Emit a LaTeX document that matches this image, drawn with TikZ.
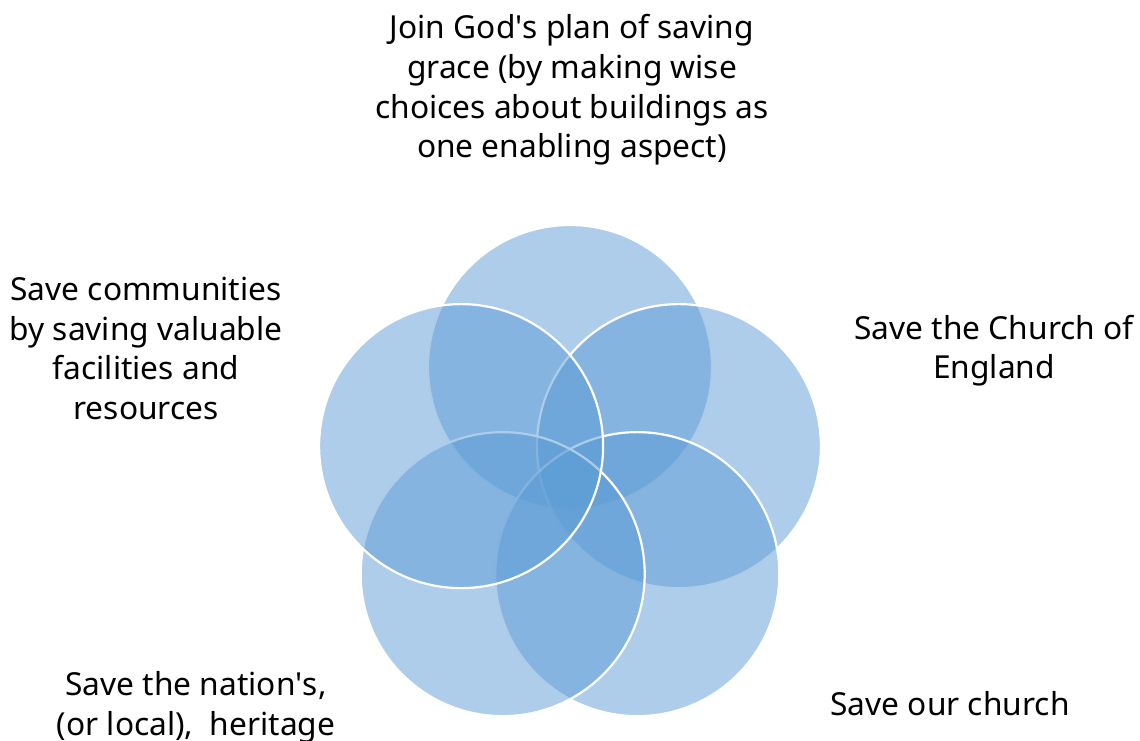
\documentclass[tikz,border=0pt]{standalone}
\usepackage{fontspec}
\setmainfont{Noto Sans}
\definecolor{vennblue}{HTML}{5B9BD5}
\begin{document}
\begin{tikzpicture}[x=1pt,y=-1pt,
  venn/.style={fill=vennblue,fill opacity=0.5,draw=white,draw opacity=1,line width=2.2pt},
  lbl/.style={align=center,inner sep=0pt,font=\fontsize{31.7}{39.6}\selectfont,text=black}]
\useasboundingbox (0,0) rectangle (1140,740);
\coordinate (ctr) at (570,481.5);
\def\R{114.5}
\def\r{142}
\path[venn] (ctr) ++(0,-\R) circle[radius=\r];
\path[venn] (ctr) ++(\R*0.9511,-\R*0.3090) circle[radius=\r];
\path[venn] (ctr) ++(\R*0.5878,\R*0.8090) circle[radius=\r];
\path[venn] (ctr) ++(-\R*0.5878,\R*0.8090) circle[radius=\r];
\path[venn] (ctr) ++(-\R*0.9511,-\R*0.3090) circle[radius=\r];
\node[lbl] (t1) at (572,90) {Join God\textquotesingle s plan of saving\\grace (by making wise\\choices about buildings as\\one enabling aspect)};
\node[lbl] (t2) at (994,350.5) {Save the Church of\\England};
\node[lbl] (t3) at (950,703.5) {Save our church};
\node[lbl] (t4) at (196,707.5) {Save the nation\textquotesingle s,\\(or local),\ \ heritage};
\node[lbl] (t5) at (146,348.5) {Save communities\\by saving valuable\\facilities and\\resources};
\end{tikzpicture}
\end{document}
